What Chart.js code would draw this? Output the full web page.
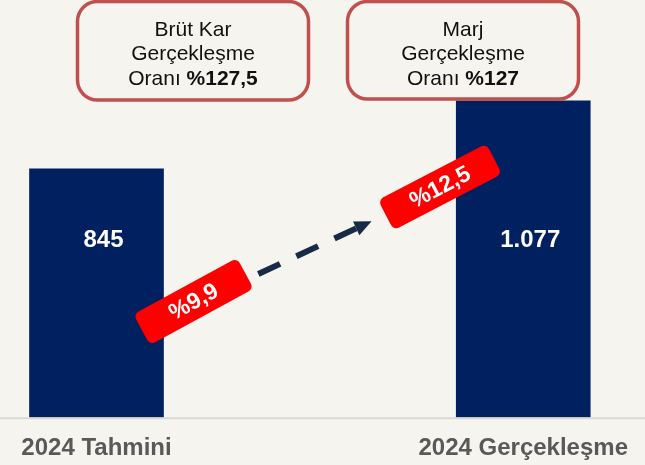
<!DOCTYPE html>
<html><head><meta charset="utf-8">
<script src="https://cdn.jsdelivr.net/npm/chart.js@4.4.1/dist/chart.umd.min.js"></script>
<style>html,body{margin:0;padding:0;background:#f5f4ef;}#wrap{width:645px;height:465px;}</style>
</head><body><div id="wrap"><canvas id="c" width="645" height="465"></canvas></div>
<script>
// ---- data ----
const categories = ['2024 Tahmini', '2024 Gerçekleşme'];
const values = [845, 1077];
const valueLabels = ['845', '1.077'];
const marginLabels = ['%9,9', '%12,5'];
const calloutTitles = [['Brüt Kar', 'Gerçekleşme'], ['Marj', 'Gerçekleşme']];
const calloutPrefix = 'Oranı ';
const calloutValues = ['%127,5', '%127'];

const FONT = '"Liberation Sans", Arial, Helvetica, sans-serif';
const BG = '#f5f4ef';

function rr(ctx, x, y, w, h, r) {
  ctx.beginPath();
  ctx.moveTo(x + r, y);
  ctx.arcTo(x + w, y, x + w, y + h, r);
  ctx.arcTo(x + w, y + h, x, y + h, r);
  ctx.arcTo(x, y + h, x, y, r);
  ctx.arcTo(x, y, x + w, y, r);
  ctx.closePath();
}

function tag(ctx, cx, cy, w, h, angDeg, text) {
  ctx.save();
  ctx.translate(cx, cy);
  ctx.rotate(angDeg * Math.PI / 180);
  ctx.fillStyle = '#ff0000';
  rr(ctx, -w / 2, -h / 2, w, h, 6);
  ctx.fill();
  ctx.fillStyle = '#ffffff';
  ctx.font = 'bold 23px ' + FONT;
  ctx.textAlign = 'center';
  ctx.textBaseline = 'middle';
  ctx.fillText(text, 0, 1);
  ctx.restore();
}

function callout(ctx, x, y, w, h, lines, prefix, boldVal) {
  ctx.save();
  rr(ctx, x, y, w, h, 20);
  ctx.fillStyle = BG;
  ctx.fill();
  ctx.lineWidth = 3.5;
  ctx.strokeStyle = '#c0504d';
  ctx.stroke();
  const cx = x + w / 2;
  ctx.fillStyle = '#111111';
  ctx.textBaseline = 'middle';
  ctx.textAlign = 'center';
  ctx.font = '21px ' + FONT;
  ctx.fillText(lines[0], cx, y + 28.5);
  ctx.fillText(lines[1], cx, y + 53);
  ctx.textAlign = 'left';
  const reg = '21px ' + FONT, bold = 'bold 21px ' + FONT;
  ctx.font = reg; const w1 = ctx.measureText(prefix).width;
  ctx.font = bold; const w2 = ctx.measureText(boldVal).width;
  const sx = cx - (w1 + w2) / 2;
  ctx.font = reg; ctx.fillText(prefix, sx, y + 77.5);
  ctx.font = bold; ctx.fillText(boldVal, sx + w1, y + 77.5);
  ctx.restore();
}

const deco = {
  id: 'deco',
  beforeDraw(chart) {
    const { ctx, width, height } = chart;
    ctx.save();
    ctx.fillStyle = BG;
    ctx.fillRect(0, 0, width, height);
    ctx.restore();
  },
  afterDatasetsDraw(chart) {
    const { ctx, scales } = chart;
    const meta = chart.getDatasetMeta(0);
    const y0 = scales.y.getPixelForValue(0);
    ctx.save();
    // baseline across the whole width
    ctx.strokeStyle = '#d9d9d9';
    ctx.lineWidth = 2;
    ctx.beginPath();
    ctx.moveTo(0, y0 + 1);
    ctx.lineTo(chart.width, y0 + 1);
    ctx.stroke();
    // value labels inside bars
    ctx.fillStyle = '#ffffff';
    ctx.font = 'bold 24px ' + FONT;
    ctx.textAlign = 'center';
    ctx.textBaseline = 'middle';
    meta.data.forEach((bar, i) => {
      ctx.fillText(valueLabels[i], bar.x + 7, y0 - 177);
    });
    // dashed arrow
    const ang = -25 * Math.PI / 180;
    const ux = Math.cos(ang), uy = Math.sin(ang);
    const ax = 258.3, ay = 274;
    const len = 125;
    const tx = ax + ux * len, ty = ay + uy * len;
    const headL = 17, headW = 15;
    const bx = tx - ux * headL, by = ty - uy * headL;
    ctx.strokeStyle = '#172a46';
    ctx.fillStyle = '#172a46';
    ctx.lineWidth = 6;
    ctx.lineCap = 'butt';
    ctx.setLineDash([24, 18]);
    ctx.beginPath();
    ctx.moveTo(ax, ay);
    ctx.lineTo(bx, by);
    ctx.stroke();
    ctx.setLineDash([]);
    const nx = -uy, ny = ux;
    ctx.beginPath();
    ctx.moveTo(tx, ty);
    ctx.lineTo(bx + nx * headW / 2, by + ny * headW / 2);
    ctx.lineTo(bx - nx * headW / 2, by - ny * headW / 2);
    ctx.closePath();
    ctx.fill();
    ctx.restore();
    // red margin tags
    tag(ctx, 193.5, 301.5, 118, 35, -28.5, marginLabels[0]);
    tag(ctx, 440, 187, 122, 34, -27.5, marginLabels[1]);
    // callout boxes
    callout(ctx, 77.5, 1.5, 231, 98.5, calloutTitles[0], calloutPrefix, calloutValues[0]);
    callout(ctx, 347.5, 1.5, 231, 97.5, calloutTitles[1], calloutPrefix, calloutValues[1]);
  }
};

new Chart(document.getElementById('c'), {
  type: 'bar',
  data: {
    labels: categories,
    datasets: [{
      data: values,
      backgroundColor: '#002060',
      borderWidth: 0,
      barThickness: 134,
      clip: false
    }]
  },
  options: {
    responsive: false,
    animation: false,
    devicePixelRatio: 1,
    layout: { padding: { left: 96.5, right: 121, top: 0, bottom: -15 } },
    plugins: { legend: { display: false }, tooltip: { enabled: false } },
    scales: {
      x: {
        offset: false,
        grid: { display: false, drawTicks: false },
        border: { display: false },
        ticks: {
          color: '#595959',
          font: { family: FONT, size: 24, weight: 'bold' },
          padding: 17,
          maxRotation: 0,
          autoSkip: false
        }
      },
      y: { display: false, min: 0, max: 1420 }
    }
  },
  plugins: [deco]
});
</script>
</body></html>
